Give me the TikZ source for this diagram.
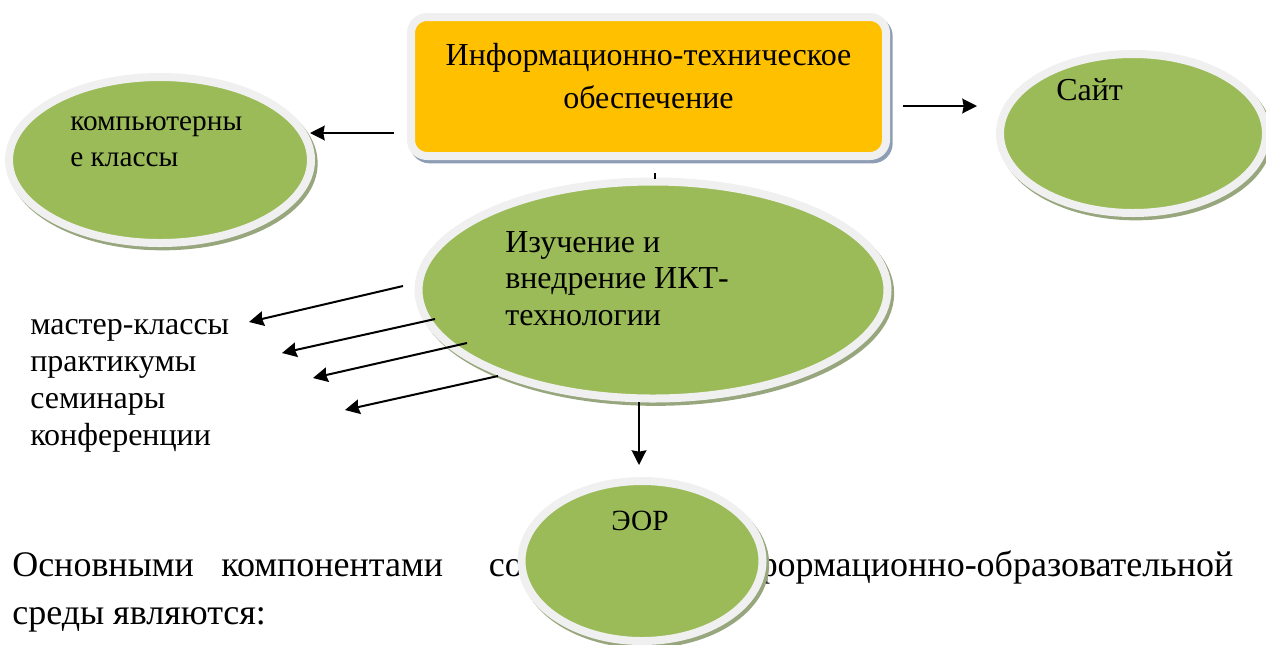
\documentclass[tikz,border=0pt]{standalone}
\usepackage{fontspec}
\setmainfont{Liberation Serif}[Ligatures=TeX]
\usetikzlibrary{shadows,arrows.meta,shapes.geometric}
\definecolor{orng}{HTML}{FFC000}
\definecolor{grn}{HTML}{9BBB59}
\definecolor{rim}{HTML}{F0F0F0}
\definecolor{shb}{HTML}{8D9DB3}
\definecolor{shg}{HTML}{98A67E}
\begin{document}
\begin{tikzpicture}[x=0.75pt,y=-0.75pt,
  oval/.style={ellipse, fill=grn, draw=rim, line width=6pt, inner sep=0pt,
    drop shadow={shadow xshift=2pt, shadow yshift=-2.5pt, fill=shg, draw=shg, line width=6pt, opacity=1}},
  itbox/.style={rectangle, rounded corners=12pt, fill=orng, draw=rim, line width=6pt, inner sep=0pt,
    drop shadow={shadow xshift=2pt, shadow yshift=-2.5pt, fill=shb, draw=shb, line width=6pt, opacity=1}},
  lbl/.style={inner sep=0pt, anchor=base west, font=\fontsize{24pt}{28pt}\selectfont},
  slbl/.style={inner sep=0pt, anchor=base west, font=\fontsize{22pt}{26pt}\selectfont},
  clbl/.style={inner sep=0pt, anchor=base, font=\fontsize{24pt}{28pt}\selectfont},
  para/.style={inner sep=0pt, anchor=base west, font=\fontsize{27pt}{32pt}\selectfont},
  arr/.style={line width=1.5pt, -{Stealth[length=11pt,width=11pt,inset=1pt]}},
]
\useasboundingbox (0,0) rectangle (1266,644);
% paragraph text (partly hidden by the ellipse)
\node[para] (p1) at (12,576) {\hbox to 915.75pt{Основными\hfill\ компонентами\hfill\hfill\ современной\hfill\ информационно-образовательной}};
\node[para] (p2) at (12,624) {среды являются:};
% shapes
\node[itbox, minimum width=356.25pt, minimum height=104.25pt] (it) at (648.5,86.5) {};
\node[oval, minimum width=226.5pt, minimum height=124.5pt] (comp) at (160,160) {};
\node[oval, minimum width=199.5pt, minimum height=119.25pt] (site) at (1133,133.5) {};
\node[oval, minimum width=351.75pt, minimum height=162.75pt] (ikt) at (653,290) {};
\node[oval, minimum width=180.75pt, minimum height=120pt] (eor) at (642,561) {};
% texts
\node[clbl] (t1) at (648.5,65) {Информационно-техническое};
\node[clbl] (t2) at (648.5,108) {обеспечение};
\node[slbl] (c1) at (70,130) {компьютерны};
\node[slbl] (c2) at (70,166) {е классы};
\node[lbl] (s1) at (1056,100) {Сайт};
\node[lbl] (i1) at (505,252) {Изучение и};
\node[lbl] (i2) at (505,288) {внедрение ИКТ-};
\node[lbl] (i3) at (505,325) {технологии};
\node[clbl, font=\fontsize{22pt}{26pt}\selectfont] (e1) at (640,530) {ЭОР};
\node[lbl] (m1) at (30,334) {мастер-классы};
\node[lbl] (m2) at (30,371) {практикумы};
\node[lbl] (m3) at (30,408) {семинары};
\node[lbl] (m4) at (30,445) {конференции};
% connector end points
\coordinate (aL1) at (394,133); \coordinate (aL2) at (310,133);
\coordinate (aR1) at (903,106); \coordinate (aR2) at (977,106);
\coordinate (aD1) at (639,402); \coordinate (aD2) at (639,465);
\coordinate (tk1) at (655,173); \coordinate (tk2) at (655,179);
\coordinate (b1s) at (403,286); \coordinate (b1e) at (249,322);
\coordinate (b2s) at (435,319); \coordinate (b2e) at (282,353);
\coordinate (b3s) at (467,343); \coordinate (b3e) at (313,378);
\coordinate (b4s) at (498,376); \coordinate (b4e) at (345,410);
% connectors
\draw[arr] (aL1) -- (aL2);
\draw[arr] (aR1) -- (aR2);
\draw[arr] (aD1) -- (aD2);
\draw[line width=1.5pt] (tk1) -- (tk2);
\draw[arr] (b1s) -- (b1e);
\draw[arr] (b2s) -- (b2e);
\draw[arr] (b3s) -- (b3e);
\draw[arr] (b4s) -- (b4e);
\end{tikzpicture}
\end{document}
